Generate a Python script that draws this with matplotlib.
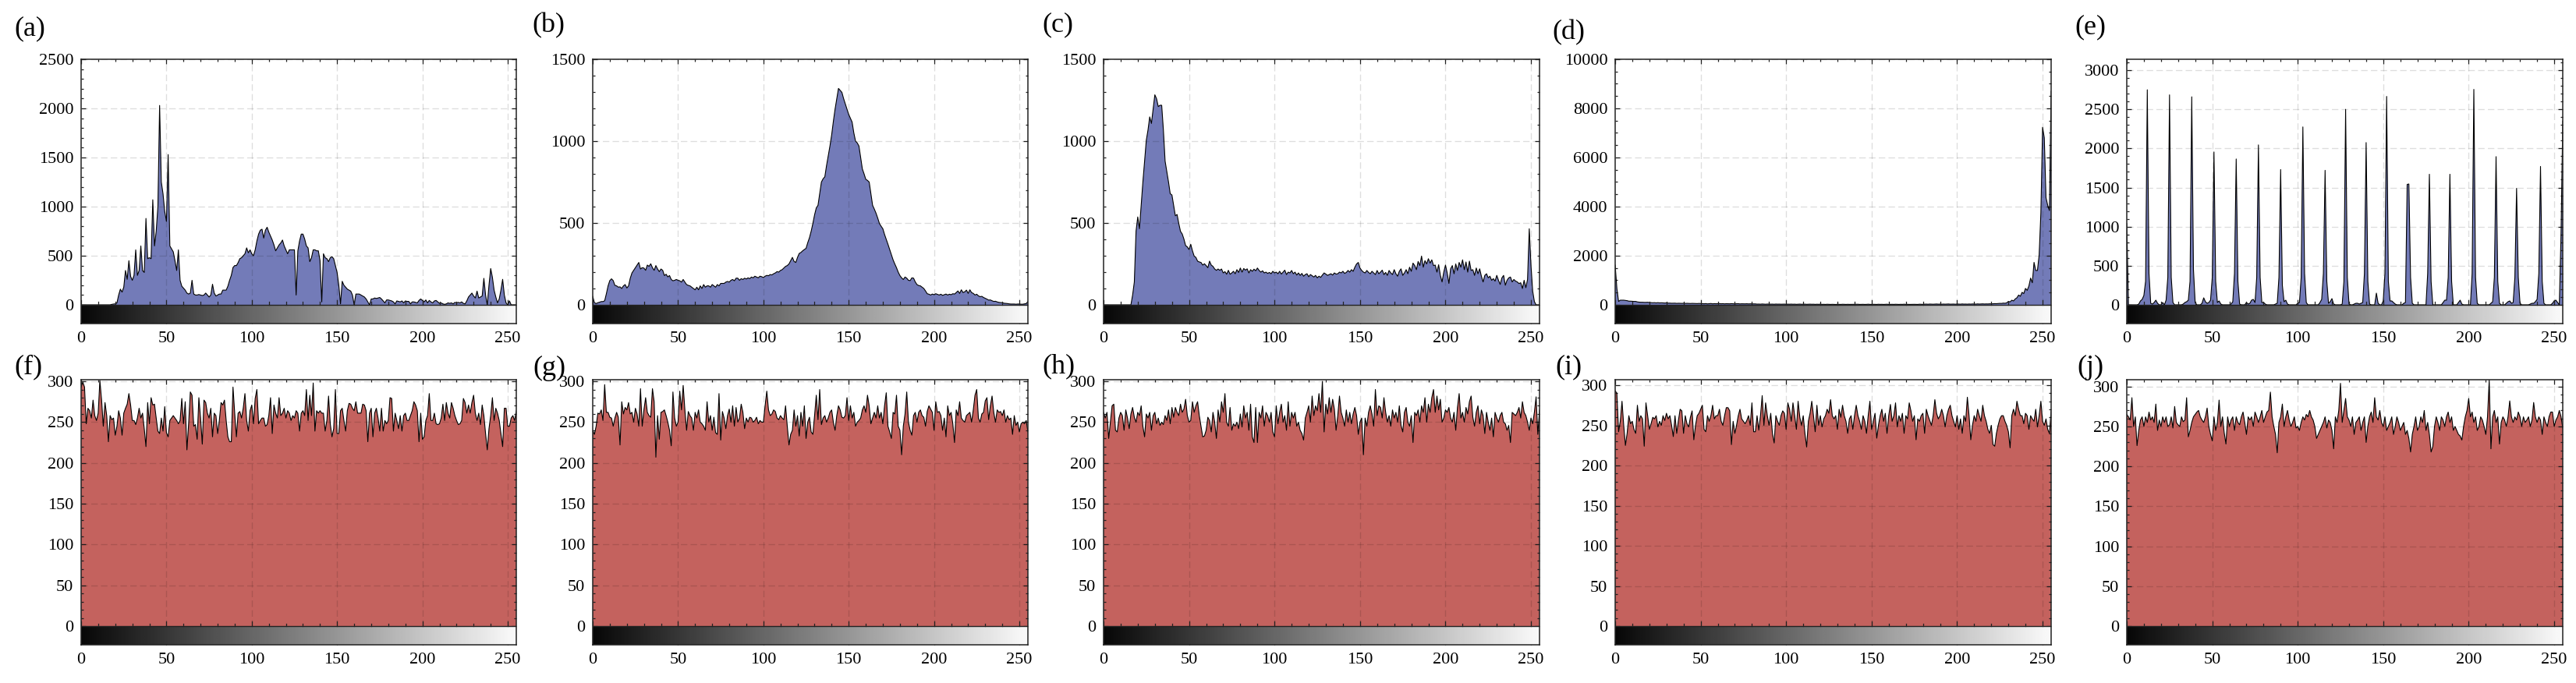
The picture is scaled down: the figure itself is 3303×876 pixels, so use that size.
import numpy as np
import matplotlib
matplotlib.use("Agg")
import matplotlib.pyplot as plt

plt.rcParams['font.family'] = ['Liberation Serif', 'DejaVu Serif']

# ---------------- data (pixel counts per gray level 0..255) ----------------
hist_a = [
    0, 0, 0, 0, 0, 0, 0, 0, 0, 0, 0, 0, 0, 0, 0, 0,
    0, 0, 5, 8, 10, 20, 100, 160, 130, 180, 350, 260, 450, 290, 250, 300,
    560, 300, 350, 600, 350, 330, 880, 470, 480, 470, 1070, 600, 750, 1000, 2030, 1250,
    1130, 950, 850, 1530, 600, 570, 540, 450, 350, 560, 250, 190, 170, 150, 120, 110,
    120, 250, 110, 100, 100, 105, 100, 95, 100, 120, 100, 80, 100, 210, 120, 90,
    100, 110, 110, 150, 150, 150, 190, 250, 300, 380, 400, 400, 430, 470, 480, 500,
    520, 580, 530, 560, 520, 500, 560, 650, 720, 760, 770, 680, 760, 790, 740, 700,
    660, 610, 550, 580, 610, 630, 660, 600, 560, 520, 560, 560, 560, 560, 100, 550,
    650, 720, 720, 670, 600, 580, 440, 480, 560, 560, 550, 550, 450, 30, 520, 480,
    470, 440, 480, 490, 470, 400, 330, 200, 10, 240, 200, 180, 160, 150, 140, 100,
    0, 110, 110, 110, 100, 90, 80, 60, 30, 0, 60, 60, 70, 65, 70, 75,
    60, 40, 20, 50, 50, 45, 40, 30, 10, 40, 35, 30, 40, 20, 40, 35,
    35, 10, 30, 30, 25, 20, 45, 60, 45, 30, 50, 20, 45, 30, 20, 40,
    45, 30, 15, 20, 10, 5, 10, 20, 15, 20, 10, 25, 20, 25, 20, 30,
    15, 10, 40, 80, 100, 120, 90, 70, 140, 70, 80, 90, 270, 100, 0, 200,
    370, 280, 150, 80, 20, 60, 150, 260, 100, 20, 0, 40, 0, 0, 0, 0,
]
hist_b = [
    52, 13, 8, 13, 16, 20, 20, 25, 68, 116, 148, 159, 148, 119, 116, 108,
    110, 100, 116, 124, 103, 116, 163, 195, 211, 227, 243, 259, 219, 227, 225, 211,
    243, 235, 251, 227, 211, 240, 219, 203, 219, 211, 179, 187, 171, 179, 155, 147,
    150, 155, 150, 147, 139, 155, 139, 124, 119, 116, 108, 100, 92, 108, 92, 116,
    100, 124, 108, 116, 116, 108, 124, 116, 108, 124, 116, 131, 131, 131, 139, 143,
    139, 150, 155, 147, 163, 163, 150, 160, 155, 163, 158, 165, 160, 170, 165, 175,
    170, 165, 175, 172, 167, 175, 180, 178, 185, 183, 190, 195, 203, 200, 210, 215,
    225, 235, 240, 250, 270, 290, 265, 259, 290, 314, 320, 330, 338, 345, 380, 410,
    450, 497, 550, 592, 608, 680, 750, 770, 782, 850, 910, 970, 1037, 1120, 1195, 1260,
    1322, 1310, 1298, 1260, 1227, 1195, 1163, 1140, 1116, 1050, 1000, 989, 970, 900, 830, 800,
    767, 760, 750, 680, 608, 585, 560, 530, 497, 480, 465, 430, 400, 370, 338, 305,
    275, 250, 227, 200, 179, 165, 155, 170, 163, 150, 148, 165, 163, 140, 124, 118,
    116, 108, 100, 85, 68, 65, 60, 66, 62, 68, 64, 60, 65, 58, 62, 66,
    60, 65, 62, 68, 66, 75, 85, 70, 92, 75, 80, 90, 70, 92, 75, 70,
    60, 65, 55, 50, 52, 45, 40, 35, 29, 30, 25, 21, 22, 18, 15, 14,
    13, 10, 9, 8, 6, 5, 5, 5, 4, 5, 5, 4, 4, 6, 8, 20,
]
hist_c = [
    0, 0, 0, 0, 0, 0, 0, 0, 0, 0, 0, 0, 0, 0, 0, 0,
    0, 60, 140, 450, 537, 465, 608, 750, 878, 1005, 1068, 1148, 1108, 1195, 1283, 1259,
    1211, 1219, 1219, 1068, 878, 814, 750, 679, 671, 608, 544, 552, 497, 449, 433, 402,
    362, 354, 338, 370, 330, 298, 290, 267, 262, 259, 243, 251, 240, 227, 267, 243,
    235, 219, 211, 219, 211, 219, 195, 203, 187, 211, 187, 195, 205, 190, 215, 198,
    225, 200, 222, 212, 220, 195, 215, 205, 218, 208, 225, 210, 200, 208, 195, 200,
    192, 198, 190, 205, 195, 200, 190, 205, 188, 200, 212, 185, 200, 195, 210, 190,
    200, 182, 195, 180, 192, 175, 185, 190, 172, 185, 178, 170, 180, 165, 175, 168,
    182, 195, 188, 180, 185, 190, 182, 195, 188, 190, 200, 195, 205, 192, 198, 210,
    200, 215, 205, 230, 250, 259, 225, 210, 200, 195, 210, 198, 190, 205, 195, 185,
    210, 190, 200, 212, 185, 198, 180, 210, 195, 185, 215, 190, 175, 205, 220, 180,
    195, 215, 190, 230, 205, 255, 240, 215, 265, 240, 298, 230, 270, 250, 282, 255,
    275, 240, 243, 200, 245, 180, 140, 200, 243, 195, 131, 220, 240, 190, 250, 210,
    259, 230, 275, 215, 262, 200, 267, 210, 215, 180, 225, 190, 220, 175, 140, 180,
    190, 165, 175, 150, 160, 145, 180, 150, 125, 165, 180, 120, 150, 165, 170, 140,
    155, 145, 140, 130, 135, 100, 150, 105, 155, 465, 243, 84, 20, 0, 0, 0,
]
hist_d = [
    1620, 670, 140, 190, 190, 190, 180, 170, 150, 150, 145, 140, 140, 120, 110, 105,
    105, 100, 100, 105, 95, 90, 85, 90, 80, 90, 80, 85, 80, 75, 80, 70,
    70, 65, 65, 68, 60, 65, 62, 60, 64, 58, 62, 60, 55, 60, 58, 55,
    52, 58, 55, 50, 45, 52, 40, 48, 55, 42, 50, 46, 48, 52, 44, 50,
    40, 48, 46, 42, 50, 44, 40, 46, 48, 38, 44, 42, 40, 45, 38, 42,
    40, 35, 38, 30, 32, 28, 35, 30, 26, 32, 30, 28, 30, 25, 32, 28,
    30, 26, 28, 30, 24, 28, 26, 30, 25, 28, 22, 26, 30, 24, 26, 28,
    22, 25, 28, 24, 26, 20, 25, 22, 26, 20, 22, 18, 24, 20, 18, 22,
    20, 16, 22, 20, 18, 24, 20, 18, 22, 19, 20, 18, 22, 20, 24, 18,
    20, 22, 18, 20, 26, 20, 18, 22, 20, 18, 24, 20, 22, 18, 20, 25,
    18, 20, 22, 19, 24, 20, 18, 22, 20, 26, 20, 22, 18, 20, 24, 22,
    20, 18, 26, 22, 20, 28, 30, 25, 32, 28, 26, 30, 34, 28, 30, 26,
    32, 28, 30, 35, 28, 30, 32, 26, 34, 30, 28, 36, 30, 32, 28, 34,
    30, 36, 32, 30, 38, 32, 35, 40, 34, 38, 36, 42, 40, 45, 50, 48,
    55, 60, 58, 70, 65, 80, 140, 120, 190, 160, 240, 290, 400, 350, 510, 460,
    670, 590, 770, 1090, 900, 1730, 1400, 1400, 2040, 3740, 7230, 6800, 4370, 4050, 3840, 8700,
]
hist_e = [
    1040, 0, 0, 0, 0, 0, 0, 10, 50, 70, 120, 300, 2750, 400, 20, 10,
    30, 60, 20, 0, 0, 30, 0, 60, 350, 2685, 350, 30, 0, 0, 0, 0,
    0, 10, 30, 40, 60, 300, 2660, 450, 30, 0, 0, 0, 20, 90, 40, 20,
    30, 60, 350, 1955, 300, 30, 50, 10, 0, 0, 0, 0, 0, 10, 40, 400,
    1865, 300, 10, 0, 0, 0, 30, 10, 20, 60, 70, 30, 350, 2045, 350, 30,
    30, 10, 0, 0, 0, 0, 0, 10, 20, 350, 1730, 250, 40, 60, 10, 0,
    0, 0, 0, 0, 20, 30, 350, 2275, 400, 30, 0, 0, 0, 0, 0, 0,
    0, 30, 70, 400, 1720, 300, 20, 40, 80, 10, 0, 0, 0, 0, 10, 300,
    2500, 350, 10, 0, 0, 10, 20, 20, 10, 20, 30, 400, 2075, 300, 10, 0,
    0, 0, 150, 20, 0, 0, 50, 400, 2665, 300, 50, 50, 30, 10, 0, 0,
    0, 0, 20, 30, 1540, 1545, 350, 20, 0, 0, 0, 0, 0, 0, 0, 0,
    400, 1670, 300, 0, 0, 0, 0, 0, 0, 30, 60, 60, 350, 1670, 300, 0,
    0, 0, 30, 60, 10, 0, 0, 0, 0, 0, 400, 2755, 350, 20, 0, 0,
    0, 0, 0, 0, 0, 20, 40, 350, 1895, 300, 20, 0, 0, 0, 20, 40,
    50, 20, 30, 350, 1490, 350, 20, 0, 0, 0, 0, 0, 10, 20, 20, 40,
    70, 400, 1770, 300, 20, 0, 0, 0, 0, 20, 50, 60, 30, 0, 900, 2350,
]
hist_f = [
    293, 299, 293, 248, 267, 264, 255, 277, 258, 252, 261, 301, 277, 245, 274, 258,
    226, 258, 253, 255, 234, 245, 264, 255, 234, 261, 267, 272, 285, 271, 252, 252,
    247, 255, 267, 255, 261, 242, 220, 274, 248, 280, 271, 272, 255, 239, 236, 255,
    239, 269, 237, 232, 252, 255, 258, 255, 252, 248, 252, 279, 248, 275, 216, 248,
    287, 283, 245, 247, 229, 280, 255, 223, 277, 274, 261, 255, 267, 232, 261, 258,
    236, 252, 274, 271, 277, 252, 232, 226, 226, 293, 261, 232, 261, 263, 255, 267,
    285, 252, 239, 264, 271, 248, 279, 290, 248, 252, 255, 255, 245, 247, 258, 280,
    236, 271, 261, 255, 280, 258, 261, 267, 255, 264, 261, 252, 258, 255, 264, 261,
    239, 261, 264, 258, 290, 252, 283, 258, 298, 239, 264, 261, 264, 261, 261, 239,
    252, 282, 248, 232, 242, 290, 236, 236, 264, 267, 252, 239, 264, 273, 272, 267,
    264, 275, 261, 261, 261, 272, 271, 264, 226, 261, 267, 232, 261, 267, 255, 239,
    267, 239, 252, 248, 252, 280, 279, 239, 261, 252, 242, 258, 239, 258, 261, 252,
    252, 258, 264, 275, 271, 264, 226, 261, 229, 232, 252, 258, 285, 252, 252, 261,
    248, 247, 248, 255, 272, 252, 274, 261, 255, 274, 267, 258, 252, 247, 248, 252,
    279, 274, 261, 271, 261, 274, 283, 261, 252, 261, 247, 271, 258, 236, 216, 242,
    258, 280, 252, 267, 261, 252, 236, 220, 267, 267, 245, 245, 255, 258, 252, 264,
]
hist_g = [
    240, 235, 245, 261, 260, 265, 252, 296, 262, 262, 256, 255, 245, 255, 262, 256,
    222, 275, 260, 268, 265, 274, 260, 262, 250, 267, 260, 245, 291, 245, 265, 280,
    262, 258, 256, 291, 275, 207, 258, 229, 262, 263, 265, 258, 250, 240, 221, 287,
    255, 245, 250, 288, 265, 295, 265, 240, 263, 258, 255, 240, 262, 255, 265, 250,
    248, 245, 240, 275, 250, 258, 240, 256, 237, 235, 285, 228, 263, 255, 242, 258,
    266, 250, 270, 245, 268, 250, 255, 272, 262, 242, 255, 250, 256, 255, 250, 252,
    256, 248, 252, 250, 250, 270, 288, 265, 258, 260, 265, 263, 255, 253, 258, 255,
    253, 270, 245, 222, 235, 240, 265, 245, 258, 233, 262, 245, 270, 230, 250, 256,
    238, 235, 258, 283, 253, 290, 247, 255, 258, 250, 255, 262, 265, 250, 240, 258,
    270, 265, 256, 255, 258, 280, 252, 270, 255, 262, 245, 250, 252, 255, 265, 270,
    262, 283, 270, 248, 255, 262, 255, 270, 255, 262, 248, 270, 286, 245, 238, 230,
    262, 260, 283, 245, 240, 210, 245, 260, 287, 250, 240, 234, 258, 262, 250, 262,
    265, 258, 256, 245, 263, 270, 266, 262, 240, 275, 262, 263, 258, 240, 255, 232,
    270, 258, 262, 248, 225, 265, 258, 275, 255, 252, 250, 258, 260, 262, 250, 265,
    283, 290, 255, 250, 260, 262, 276, 280, 253, 270, 282, 262, 250, 265, 262, 263,
    258, 265, 250, 258, 253, 255, 235, 258, 246, 250, 238, 248, 250, 248, 252, 238,
]
hist_h = [
    262, 255, 262, 230, 250, 270, 272, 240, 238, 255, 262, 258, 240, 265, 255, 242,
    260, 268, 256, 250, 262, 258, 270, 245, 232, 260, 255, 262, 240, 258, 262, 248,
    255, 246, 250, 247, 258, 252, 265, 248, 268, 256, 268, 262, 258, 272, 262, 266,
    278, 258, 250, 252, 275, 262, 270, 275, 258, 245, 232, 233, 240, 256, 252, 238,
    262, 250, 230, 265, 250, 275, 262, 285, 250, 245, 268, 240, 248, 245, 250, 242,
    260, 244, 270, 255, 262, 240, 272, 232, 225, 268, 225, 262, 255, 270, 245, 262,
    258, 250, 262, 238, 232, 270, 248, 262, 272, 250, 258, 240, 275, 245, 262, 255,
    262, 245, 250, 240, 236, 228, 255, 262, 270, 250, 282, 258, 270, 264, 285, 262,
    300, 238, 272, 260, 280, 262, 278, 266, 240, 258, 282, 262, 255, 245, 265, 250,
    262, 248, 260, 268, 258, 235, 250, 255, 210, 255, 245, 262, 270, 260, 245, 290,
    258, 270, 268, 255, 280, 262, 250, 258, 245, 265, 255, 262, 250, 270, 246, 238,
    262, 268, 250, 245, 258, 225, 262, 258, 265, 250, 270, 262, 280, 250, 272, 262,
    280, 290, 262, 282, 265, 278, 250, 255, 265, 262, 268, 255, 250, 262, 240, 268,
    285, 255, 262, 250, 268, 260, 275, 282, 256, 245, 262, 270, 248, 265, 258, 236,
    262, 250, 240, 255, 232, 262, 255, 250, 258, 262, 250, 248, 240, 246, 225, 262,
    260, 258, 262, 268, 255, 275, 262, 258, 250, 240, 255, 248, 262, 281, 235, 265,
]
hist_i = [
    293, 290, 242, 255, 280, 250, 225, 240, 262, 252, 255, 245, 240, 275, 255, 262,
    258, 224, 278, 262, 245, 252, 260, 258, 262, 248, 255, 250, 262, 256, 265, 258,
    262, 250, 236, 262, 240, 256, 270, 268, 240, 262, 252, 248, 260, 268, 232, 250,
    262, 265, 270, 275, 245, 242, 262, 255, 262, 275, 258, 262, 262, 270, 255, 250,
    262, 272, 272, 268, 226, 255, 240, 250, 262, 270, 258, 255, 252, 256, 262, 250,
    278, 242, 242, 262, 244, 262, 287, 250, 278, 262, 250, 265, 240, 228, 262, 255,
    250, 262, 268, 265, 245, 278, 270, 255, 278, 262, 245, 280, 260, 250, 262, 240,
    223, 255, 265, 280, 262, 242, 275, 250, 262, 248, 258, 262, 270, 265, 282, 262,
    258, 262, 245, 270, 260, 275, 262, 255, 240, 258, 262, 245, 262, 275, 262, 255,
    245, 262, 255, 240, 262, 280, 245, 255, 265, 234, 250, 262, 270, 255, 265, 240,
    262, 276, 255, 262, 278, 248, 262, 255, 265, 240, 262, 258, 278, 268, 255, 262,
    232, 258, 255, 262, 265, 240, 270, 262, 256, 250, 262, 282, 265, 258, 262, 270,
    262, 248, 262, 270, 275, 262, 255, 248, 262, 245, 258, 240, 262, 255, 285, 262,
    232, 250, 262, 255, 270, 262, 255, 275, 262, 255, 245, 240, 250, 226, 224, 240,
    250, 258, 262, 262, 255, 250, 242, 222, 262, 270, 262, 280, 270, 262, 262, 252,
    265, 262, 245, 262, 258, 255, 270, 248, 262, 280, 255, 250, 258, 245, 240, 268,
]
hist_j = [
    265, 262, 258, 286, 250, 262, 226, 245, 258, 262, 250, 262, 255, 268, 258, 262,
    255, 278, 245, 258, 250, 262, 255, 262, 250, 252, 262, 248, 275, 255, 252, 250,
    262, 256, 258, 286, 237, 245, 255, 262, 265, 268, 270, 262, 258, 255, 262, 273,
    250, 240, 232, 262, 245, 255, 283, 250, 262, 242, 228, 262, 250, 258, 262, 245,
    262, 255, 252, 262, 268, 255, 240, 262, 258, 262, 250, 268, 262, 255, 262, 270,
    255, 262, 268, 270, 293, 262, 250, 240, 217, 255, 262, 278, 250, 262, 270, 258,
    250, 255, 262, 248, 250, 245, 255, 262, 258, 265, 262, 270, 262, 258, 250, 235,
    240, 245, 250, 255, 262, 248, 258, 255, 245, 222, 262, 255, 270, 304, 255, 270,
    285, 262, 258, 250, 262, 240, 255, 258, 262, 245, 255, 262, 230, 250, 262, 268,
    255, 286, 262, 258, 270, 255, 250, 262, 245, 250, 255, 262, 240, 250, 262, 255,
    245, 250, 255, 240, 245, 235, 218, 240, 250, 262, 245, 250, 262, 255, 270, 245,
    255, 240, 218, 225, 250, 262, 255, 245, 262, 258, 250, 262, 268, 255, 262, 245,
    250, 245, 240, 238, 233, 250, 262, 270, 285, 262, 268, 255, 262, 245, 250, 262,
    258, 250, 240, 262, 308, 222, 262, 270, 255, 262, 228, 255, 262, 258, 250, 262,
    282, 262, 255, 262, 258, 268, 262, 250, 262, 255, 258, 262, 250, 258, 280, 262,
    255, 262, 258, 240, 262, 255, 250, 262, 268, 268, 250, 258, 262, 270, 262, 248,
]

panel_labels = ['(a)', '(b)', '(c)', '(d)', '(e)', '(f)', '(g)', '(h)', '(i)', '(j)']
series = [hist_a, hist_b, hist_c, hist_d, hist_e, hist_f, hist_g, hist_h, hist_i, hist_j]
x_major_ticks = [0, 50, 100, 150, 200, 250]
y_major_ticks = [
    [0, 500, 1000, 1500, 2000, 2500],
    [0, 500, 1000, 1500],
    [0, 500, 1000, 1500],
    [0, 2000, 4000, 6000, 8000, 10000],
    [0, 500, 1000, 1500, 2000, 2500, 3000],
    [0, 50, 100, 150, 200, 250, 300],
    [0, 50, 100, 150, 200, 250, 300],
    [0, 50, 100, 150, 200, 250, 300],
    [0, 50, 100, 150, 200, 250, 300],
    [0, 50, 100, 150, 200, 250, 300],
]

# ---------------- layout / style ----------------
y_top = [2500, 1500, 1500, 10000, 3140, 302, 302, 302, 306.8, 308.5]
y_minor_step = [100, 100, 100, 500, 100, 10, 10, 10, 10, 10]
W, H = 3303, 876
col_lr = [(104, 662), (760, 1318), (1415, 1974), (2071, 2630), (2727, 3286)]
row_tb = [(76, 415), (487, 827)]
bar_px = 24
label_xy = [(18, 37), (682, 33), (1336, 32), (1990, 42), (2660, 35),
            (18, 471), (683, 472), (1336, 470), (1994, 471), (2663, 471)]
fill_colors = ['#737bb8'] * 5 + ['#c4625e'] * 5
frame_col = '#222222'

fig = plt.figure(figsize=(W / 100, H / 100), dpi=100)

for k in range(10):
    r, c = divmod(k, 5)
    l, rr = col_lr[c]
    t, b = row_tb[r]
    ax = fig.add_axes([l / W, 1 - b / H, (rr - l) / W, (b - t) / H])
    h_px = b - t
    ytop = y_top[k]
    ymin = -ytop * bar_px / (h_px - bar_px)
    vals = np.asarray(series[k], dtype=float)
    x = np.arange(len(vals))

    ax.fill_between(x, 0, vals, facecolor=fill_colors[k], edgecolor='none', zorder=1)
    ax.plot(x, vals, color='black', lw=0.8, zorder=4)

    # gray-level colour bar under the histogram
    grad = np.linspace(0.03, 0.98, 256)[None, :]
    ax.imshow(grad, cmap='gray', vmin=0, vmax=1, extent=(0, 255, ymin, 0),
              aspect='auto', interpolation='bilinear', zorder=2)
    ax.axhline(0, color=frame_col, lw=1.0, zorder=5)

    # dashed grid (only over the plot area)
    ax.vlines(x_major_ticks[1:], 0, ytop, colors='black', alpha=0.13,
              linestyles=(0, (6, 3)), lw=1.0, zorder=3)
    ax.hlines(y_major_ticks[k][1:], 0, 255, colors='black', alpha=0.13,
              linestyles=(0, (6, 3)), lw=1.0, zorder=3)

    ax.set_xlim(0, 255)
    ax.set_ylim(ymin, ytop)

    ax.set_xticks(x_major_ticks)
    ax.set_xticks(np.arange(0, 256, 10), minor=True)
    ax.set_yticks(y_major_ticks[k])
    ax.set_yticks(np.arange(0, ytop + 1e-6, y_minor_step[k]), minor=True)
    ax.tick_params(which='both', direction='in', top=True, right=True,
                   color=frame_col, width=0.9, labelsize=16)
    ax.tick_params(which='major', length=4.5)
    ax.tick_params(which='minor', length=2.5)
    ax.tick_params(axis='x', which='minor', bottom=False)
    ax.tick_params(axis='x', which='major', pad=7)
    ax.tick_params(axis='y', which='major', pad=7)

    # small ticks standing on the zero line
    per_px = (ytop - ymin) / h_px
    for xt in range(0, 256, 10):
        L = (6 if xt % 50 == 0 else 3.5) * per_px
        ax.plot([xt, xt], [0, L], color=frame_col, lw=0.9, zorder=5)

    for s in ax.spines.values():
        s.set_color(frame_col)
        s.set_linewidth(1.1)
        s.set_zorder(6)

    lx, ly = label_xy[k]
    fig.text(lx / W, 1 - ly / H, panel_labels[k], fontsize=26,
             ha='left', va='center')

fig.savefig('out.png', dpi=100)
